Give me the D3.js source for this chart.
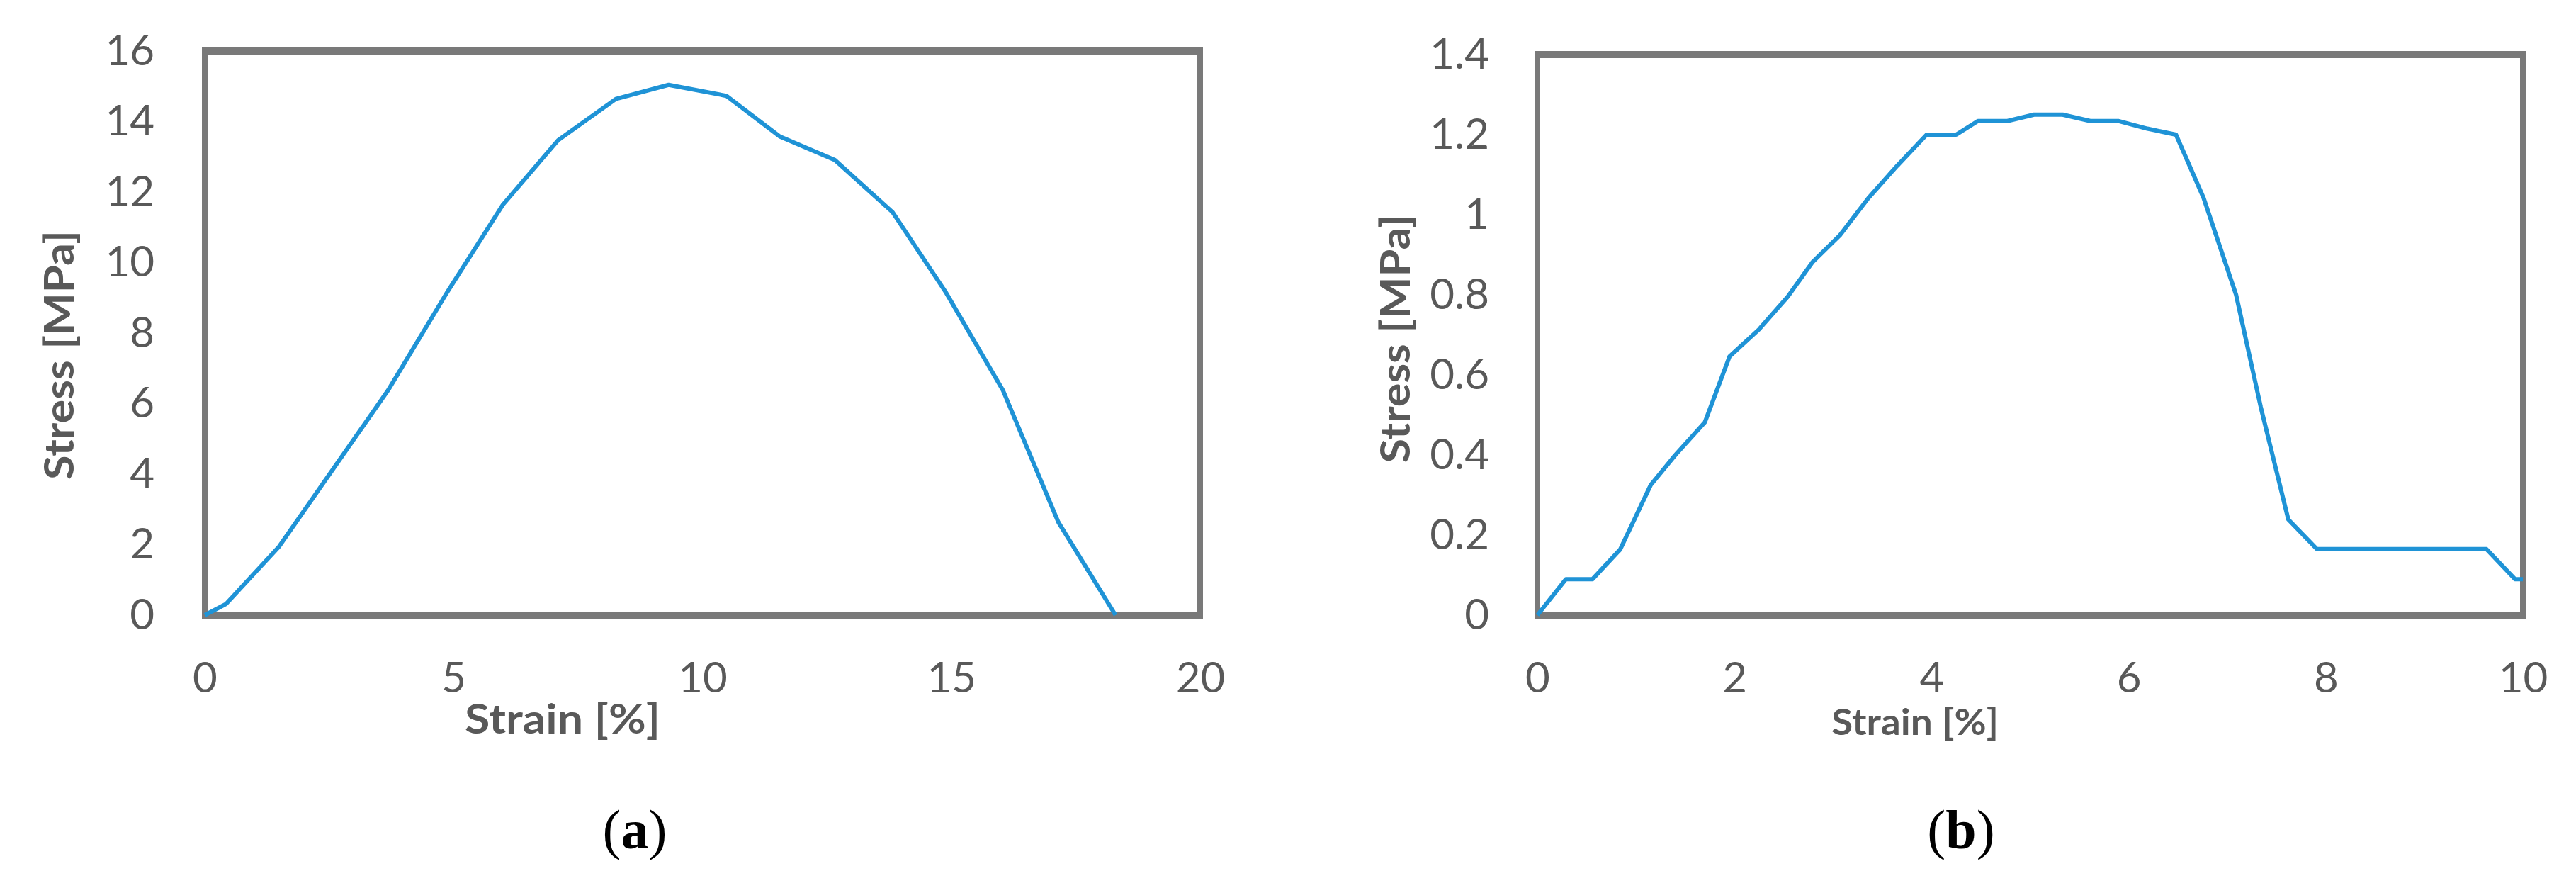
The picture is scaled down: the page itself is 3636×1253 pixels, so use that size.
<!DOCTYPE html>
<html>
<head>
<meta charset="utf-8">
<script src="https://cdn.jsdelivr.net/npm/d3@7"></script>
<style>
  html, body { margin: 0; padding: 0; background: #fff; }
</style>
</head>
<body>
<script>
// panel (a): stress-strain curve, strain in %, stress in MPa
const strainA = [0, 0.43, 1.49, 3.68, 4.88, 5.99, 7.10, 8.26, 9.32, 10.48, 11.55, 12.66, 13.82, 14.88, 16.04, 17.15, 18.3];
const stressA = [0, 0.32, 1.94, 6.37, 9.18, 11.64, 13.47, 14.64, 15.04, 14.73, 13.58, 12.91, 11.43, 9.18, 6.37, 2.64, 0];
const xTicksA = [0, 5, 10, 15, 20];
const yTicksA = [0, 2, 4, 6, 8, 10, 12, 14, 16];

// panel (b)
const strainB = [0, 0.29, 0.56, 0.84, 1.15, 1.40, 1.70, 1.95, 2.25, 2.54, 2.79, 3.07, 3.36, 3.65, 3.95, 4.25, 4.47, 4.77, 5.04, 5.33, 5.61, 5.90, 6.19, 6.48, 6.76, 7.09, 7.34, 7.62, 7.91, 9.63, 9.92, 10];
const stressB = [0, 0.09, 0.09, 0.164, 0.325, 0.40, 0.482, 0.646, 0.714, 0.795, 0.881, 0.949, 1.042, 1.122, 1.20, 1.20, 1.234, 1.234, 1.25, 1.25, 1.234, 1.234, 1.215, 1.20, 1.042, 0.80, 0.52, 0.239, 0.165, 0.165, 0.09, 0.09];
const xTicksB = [0, 2, 4, 6, 8, 10];
const yTicksB = ["0", "0.2", "0.4", "0.6", "0.8", "1", "1.2", "1.4"];

const xLabel = "Strain [%]";
const yLabel = "Stress [MPa]";

const width = 3636;
const height = 1253;

const gray = "#595959";
const frame = "#797979";
const blue = "#1f93d6";

const svg = d3
  .create("svg")
  .attr("width", width)
  .attr("height", height)
  .attr("viewBox", [0, 0, width, height])
  .style("background", "#fff");

/**
 * Draw one stress-strain panel into svg
 */
function panel(
  xs,
  ys,
  {
    left, right, top, bottom,
    xMax, yMax, xTicks, yTicks,
    yPad = 71,
    xTitle, yTitle, tag,
  }
) {
  const x = d3.scaleLinear().domain([0, xMax]).range([left, right]);
  const y = d3.scaleLinear().domain([0, yMax]).range([bottom, top]);
  const g = svg.append("g");

  // y ticks (no tick marks, labels only)
  g.append("g")
    .attr("transform", `translate(${left},0)`)
    .call(
      d3.axisLeft(y)
        .tickValues(yTicks.map(Number))
        .tickFormat((d, i) => String(yTicks[i]))
        .tickSize(0)
        .tickPadding(yPad)
    )
    .call((a) => a.select(".domain").remove())
    .call((a) =>
      a.selectAll("text")
        .attr("font-family", "Lato, 'Open Sans', sans-serif")
        .attr("font-size", 60)
        .attr("fill", gray)
    );

  g.append("g")
    .attr("transform", `translate(0,${bottom})`)
    .call(d3.axisBottom(x).tickValues(xTicks).tickSize(0).tickPadding(66))
    .call((a) => a.select(".domain").remove())
    .call((a) =>
      a.selectAll("text")
        .attr("font-family", "Lato, 'Open Sans', sans-serif")
        .attr("font-size", 60)
        .attr("fill", gray)
    );

  // plot frame: top/bottom drawn a bit heavier than the sides
  g.append("line")
    .attr("x1", left).attr("x2", left).attr("y1", top).attr("y2", bottom)
    .attr("stroke", frame).attr("stroke-width", 8);
  g.append("line")
    .attr("x1", right).attr("x2", right).attr("y1", top).attr("y2", bottom)
    .attr("stroke", frame).attr("stroke-width", 8);
  g.append("line")
    .attr("x1", left - 4).attr("x2", right + 4).attr("y1", top).attr("y2", top)
    .attr("stroke", frame).attr("stroke-width", 10);
  g.append("line")
    .attr("x1", left - 4).attr("x2", right + 4).attr("y1", bottom).attr("y2", bottom)
    .attr("stroke", frame).attr("stroke-width", 10);

  const line = d3
    .line()
    .x((d) => x(d[0]))
    .y((d) => y(d[1]));

  g.append("path")
    .datum(d3.zip(xs, ys))
    .attr("fill", "none")
    .attr("stroke", blue)
    .attr("stroke-width", 6)
    .attr("stroke-linejoin", "round")
    .attr("d", line);

  // axis titles
  g.append("text")
    .attr("x", xTitle.x)
    .attr("y", xTitle.y)
    .attr("text-anchor", "middle")
    .attr("font-family", "Lato, sans-serif")
    .attr("font-weight", "bold")
    .attr("font-size", xTitle.size)
    .attr("fill", gray)
    .attr("textLength", xTitle.len)
    .attr("lengthAdjust", "spacingAndGlyphs")
    .text(xLabel);

  g.append("text")
    .attr("transform", `translate(${yTitle.x},${yTitle.y}) rotate(-90)`)
    .attr("text-anchor", "middle")
    .attr("font-family", "Lato, sans-serif")
    .attr("font-weight", "bold")
    .attr("font-size", yTitle.size)
    .attr("fill", gray)
    .attr("textLength", yTitle.len)
    .attr("lengthAdjust", "spacingAndGlyphs")
    .text(yLabel);

  // sub-figure tag, e.g. (a)
  const t = g.append("text")
    .attr("x", tag.x)
    .attr("y", tag.y)
    .attr("text-anchor", "middle")
    .attr("font-family", "'Liberation Serif', 'Times New Roman', serif")
    .attr("font-size", 78)
    .attr("fill", "#000");
  t.append("tspan").text("(");
  t.append("tspan").attr("font-weight", "bold").text(tag.text);
  t.append("tspan").text(")");
}

panel(strainA, stressA, {
  left: 289, right: 1694, top: 72, bottom: 868,
  xMax: 20, yMax: 16, xTicks: xTicksA, yTicks: yTicksA,
  yPad: 71,
  xTitle: { x: 794, y: 1035, size: 58, len: 276 },
  yTitle: { x: 104, y: 501, size: 58, len: 352 },
  tag: { x: 896, y: 1197, text: "a" },
});

panel(strainB, stressB, {
  left: 2170, right: 3561, top: 77, bottom: 868,
  xMax: 10, yMax: 1.4, xTicks: xTicksB, yTicks: yTicksB,
  yPad: 68,
  xTitle: { x: 2703, y: 1037, size: 51, len: 236 },
  yTitle: { x: 1990, y: 478, size: 58, len: 351 },
  tag: { x: 2768, y: 1197, text: "b" },
});

document.body.appendChild(svg.node());
</script>
</body>
</html>
